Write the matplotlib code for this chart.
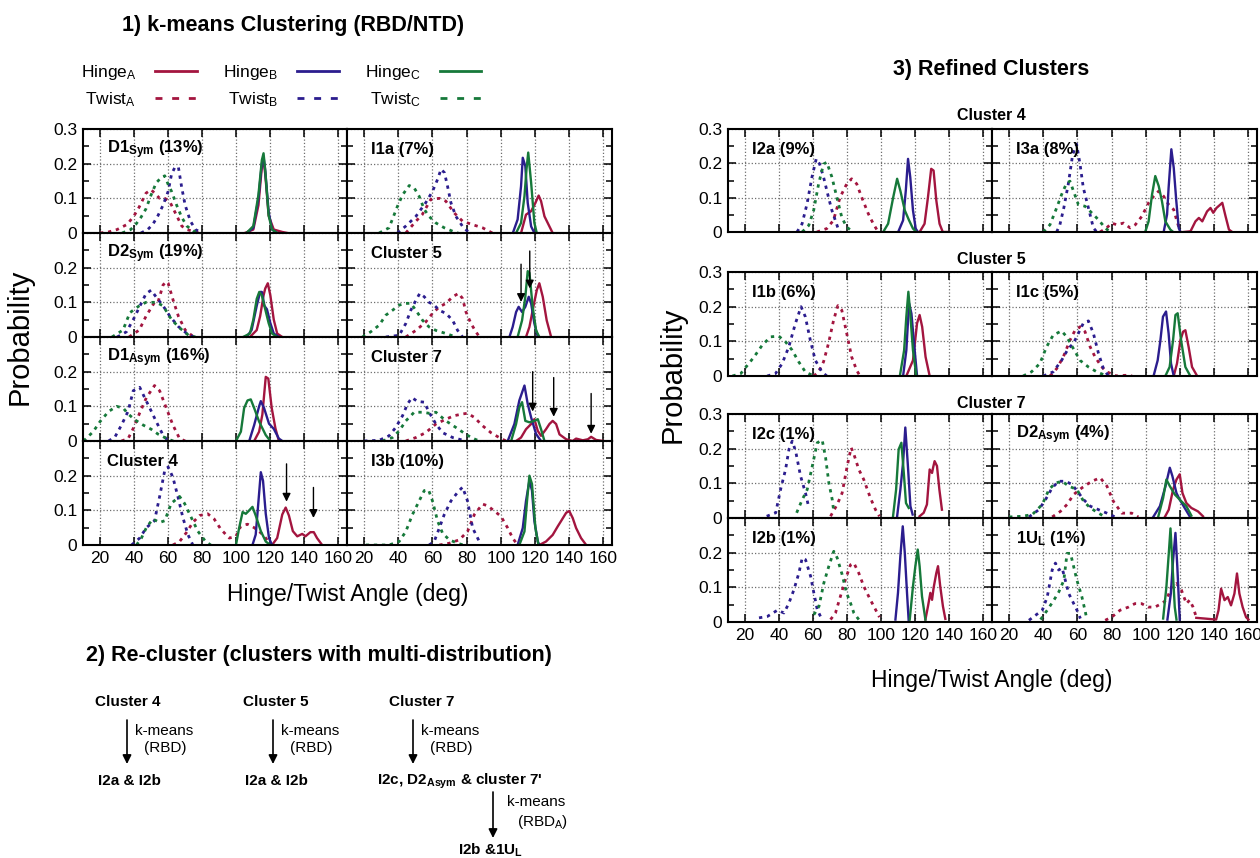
import matplotlib
matplotlib.use('Agg')
import matplotlib.pyplot as plt
from matplotlib.lines import Line2D

plt.rcParams['font.family'] = ['Liberation Sans', 'DejaVu Sans']
plt.rcParams['mathtext.default'] = 'regular'

# ---------------- data (angle deg, probability) ----------------
RED, BLUE, GREEN = '#a3153f', '#2b1d8e', '#16793a'
XTICKS = [20, 40, 60, 80, 100, 120, 140, 160]
YTICKS = [0, 0.1, 0.2, 0.3]
YTICKLABELS = ['0', '0.1', '0.2', '0.3']

d1sym = {
    'hA': [(105,0),(110,0.01),(113,0.08),(115,0.19),(116,0.21),(117,0.17),(119,0.05),(122,0.01),(127,0.003),(130,0)],
    'hB': [(106,0),(110,0.015),(113,0.1),(115,0.2),(116,0.22),(117,0.18),(119,0.06),(121,0.01),(124,0)],
    'hC': [(106,0),(110,0.02),(113,0.11),(115,0.21),(116,0.23),(117,0.18),(119,0.05),(121,0.01),(124,0)],
    'tA': [(20,0),(25,0.003),(30,0.01),(36,0.025),(40,0.05),(43,0.075),(47,0.115),(50,0.125),(55,0.1),(58,0.1),(61,0.09),(63,0.07),(65,0.05),(68,0.02),(71,0.01),(78,0)],
    'tB': [(44,0),(48,0.01),(51,0.025),(54,0.05),(57,0.08),(60,0.12),(62,0.17),(64,0.19),(66,0.19),(68,0.13),(70,0.08),(73,0.035),(76,0.01),(80,0)],
    'tC': [(33,0),(38,0.01),(41,0.025),(44,0.045),(47,0.07),(50,0.11),(53,0.145),(56,0.16),(58,0.165),(60,0.14),(62,0.12),(65,0.08),(68,0.045),(71,0.02),(75,0.005),(78,0)],
}
d2sym = {
    'hA': [(108,0),(112,0.02),(114,0.06),(116,0.12),(117,0.14),(118.5,0.155),(120,0.12),(122,0.05),(124,0.01),(127,0)],
    'hB': [(106,0),(109,0.02),(112,0.09),(114,0.13),(115,0.13),(116.5,0.09),(118,0.08),(120,0.04),(122,0.01),(125,0)],
    'hC': [(104,0),(108,0.01),(110,0.05),(112,0.11),(113.5,0.13),(115,0.12),(117,0.08),(119,0.04),(121,0.01),(124,0)],
    'tA': [(37,0),(43,0.02),(47,0.06),(52,0.1),(54,0.1),(57,0.15),(59,0.16),(60,0.155),(63,0.105),(66,0.06),(70,0.02),(75,0)],
    'tB': [(30,0),(32,0.005),(35.5,0.015),(39.5,0.05),(43.5,0.09),(47,0.125),(50,0.135),(53,0.115),(57,0.09),(61,0.06),(66,0.03),(71,0.01),(75,0)],
    'tC': [(27,0),(33.5,0.02),(37.5,0.07),(43,0.09),(47,0.1),(53,0.1),(57,0.09),(62,0.05),(67,0.025),(72,0.005),(76,0)],
}
d1asym = {
    'hA': [(110.5,0),(113.4,0.027),(115.3,0.076),(117.3,0.185),(118.8,0.18),(120.8,0.095),(123,0.036),(125,0)],
    'hB': [(107.6,0),(110.5,0.046),(113.4,0.1),(114.4,0.115),(116.3,0.095),(119.2,0.05),(122,0.035),(125,0.007),(127,0)],
    'hC': [(99.8,0),(102.7,0.027),(104.6,0.095),(106.6,0.117),(108.5,0.12),(110.5,0.095),(113.4,0.056),(117.3,0.017),(120,0)],
    'tA': [(32.6,0),(36.5,0.007),(39.5,0.036),(43.3,0.081),(47.2,0.125),(52,0.16),(55,0.145),(58.9,0.095),(62.8,0.046),(66.7,0.007),(70,0)],
    'tB': [(25,0),(28.8,0.012),(32.6,0.046),(36.5,0.086),(39.5,0.145),(43.3,0.155),(46,0.127),(49.2,0.095),(53,0.056),(57,0.017),(60,0)],
    'tC': [(10.3,0),(16,0.027),(20,0.056),(25,0.085),(29.7,0.1),(33.6,0.095),(36.5,0.078),(40.5,0.061),(45.3,0.046),(50,0.034),(54,0.02),(60,0.005),(63,0)],
}
cluster4 = {
    'hA': [(121,0),(124,0.02),(127,0.088),(129,0.108),(130.9,0.085),(133.2,0.04),(135.8,0.025),(138.7,0.032),(140.6,0.025),(143.5,0.037),(145.5,0.037),(147.4,0.02),(150.4,0)],
    'hB': [(109.5,0),(111.4,0.03),(113,0.125),(114.4,0.21),(115.7,0.185),(117.3,0.09),(119.2,0.02),(121,0)],
    'hC': [(99.8,0),(101.7,0.05),(103.7,0.095),(105.6,0.09),(107.6,0.1),(109.5,0.11),(111.4,0.085),(114.4,0.04),(117.3,0.01),(120,0)],
    'tA': [(62.8,0),(66.7,0.01),(70.6,0.035),(74.5,0.065),(78.4,0.085),(83.2,0.09),(87,0.075),(91,0.045),(95.9,0.02),(99.8,0.025),(102.7,0.055),(106.6,0.06),(110.5,0.05),(114.4,0.035),(117.3,0.02),(120,0)],
    'tB': [(38.5,0),(43.3,0.02),(47.2,0.05),(52,0.07),(55,0.14),(58,0.215),(60,0.225),(62.8,0.195),(65.7,0.14),(68.6,0.08),(71.6,0.03),(74.5,0)],
    'tC': [(41.4,0),(44.3,0.02),(47.2,0.05),(51,0.075),(55,0.065),(58,0.07),(61.8,0.12),(66.7,0.14),(69.6,0.12),(73.5,0.08),(77.4,0.04),(82,0.01),(85,0)],
}
i1a = {
    'hA': [(111.8,0),(114.7,0.053),(117.7,0.063),(120.2,0.087),(122.1,0.108),(123.5,0.092),(125.5,0.048),(127.4,0.029),(130.3,0)],
    'hB': [(107,0),(109.8,0.039),(111.8,0.135),(112.8,0.217),(114.3,0.193),(115.7,0.087),(117.7,0.019),(119.6,0)],
    'hC': [(108.9,0),(111.8,0.029),(113.8,0.106),(115,0.184),(116,0.232),(117.7,0.145),(119.6,0.029),(121,0)],
    'tA': [(44.4,0),(50.3,0.034),(54,0.053),(59,0.097),(64,0.1),(67.8,0.092),(72.7,0.058),(77.6,0.034),(83.5,0.024),(89.3,0.015),(95,0)],
    'tB': [(39.5,0),(44.4,0.02),(50.3,0.048),(56,0.087),(60,0.12),(63,0.155),(65,0.184),(67,0.174),(68.8,0.135),(70.8,0.087),(73.7,0.048),(77.6,0.019),(81.5,0)],
    'tC': [(28.8,0),(34.6,0.015),(39.5,0.077),(42.5,0.11),(46.4,0.137),(49.3,0.13),(52.2,0.106),(55.2,0.068),(58,0.048),(62,0.029),(66.9,0.015),(71.8,0.005),(75,0)],
}
cluster5 = {
    'hA': [(114.7,0),(116.7,0.029),(119,0.087),(121,0.135),(122.5,0.155),(124.5,0.116),(126.8,0.048),(129.4,0)],
    'hB': [(105,0),(106.9,0.029),(108.9,0.072),(110.4,0.087),(112.4,0.072),(114.3,0.087),(116.3,0.116),(117.7,0.097),(119.6,0.039),(121.6,0)],
    'hC': [(109.8,0),(112.4,0.048),(114.3,0.116),(115.7,0.19),(116.7,0.185),(118.6,0.087),(120.6,0.019),(122.5,0)],
    'tA': [(44.4,0),(50.3,0.019),(56,0.043),(60,0.068),(64,0.087),(67.9,0.097),(71.8,0.116),(75.3,0.126),(77.6,0.111),(79.6,0.072),(82.5,0.039),(85.4,0.015),(87.5,0)],
    'tB': [(32.7,0),(40.5,0.005),(44.4,0.039),(47.3,0.077),(50.3,0.106),(52.6,0.126),(55.2,0.116),(58,0.1),(61,0.092),(64,0.077),(67.9,0.068),(71.8,0.048),(74.7,0.019),(77.6,0)],
    'tC': [(19,0),(23.9,0.015),(28.8,0.034),(32.7,0.063),(36.6,0.077),(40.5,0.092),(44.4,0.097),(47.3,0.097),(50.3,0.077),(54.2,0.048),(58,0.029),(62,0.019),(67.9,0.01),(73.7,0)],
}
cluster7 = {
    'hA': [(108.9,0),(111.8,0.01),(114.7,0.034),(117.7,0.049),(119.6,0.063),(121.6,0.029),(123.5,0.015),(126.4,0.034),(128.4,0.049),(130.3,0.058),(132.3,0.049),(134.3,0.019),(138.2,0.005),(142,0),(144,0.007),(147.9,0.002),(150.9,0.005),(152.8,0.012),(155.7,0.003),(160,0)],
    'hB': [(104,0),(107.9,0.049),(110.8,0.117),(113.8,0.16),(115.7,0.107),(117.7,0.068),(120.6,0.02),(123.5,0)],
    'hC': [(106,0),(108.9,0.049),(110.8,0.097),(112.4,0.112),(114.3,0.058),(116.7,0.054),(119.6,0.058),(121.6,0.063),(123.5,0.034),(125.5,0)],
    'tA': [(44.4,0),(50.3,0.01),(56,0.024),(62,0.049),(67.9,0.063),(72.7,0.073),(77.6,0.078),(80.5,0.08),(84.5,0.068),(89.3,0.044),(94.2,0.024),(99,0.01),(103,0)],
    'tB': [(20,0),(28.8,0.002),(34.6,0.015),(38.5,0.039),(42.5,0.073),(45.4,0.107),(48,0.125),(51.3,0.114),(55.2,0.112),(58,0.083),(62,0.049),(65.9,0.024),(71.8,0.01),(79.6,0)],
    'tC': [(30.7,0),(36.6,0.01),(40.5,0.029),(44.4,0.058),(49.3,0.083),(54.2,0.083),(58,0.08),(62,0.083),(67.9,0.058),(73.7,0.039),(79.6,0.019),(83.5,0.008),(87.4,0)],
}
i3b = {
    'hA': [(122.5,0),(126.4,0.01),(130.3,0.029),(133.3,0.054),(135.2,0.069),(138.2,0.093),(140,0.098),(142,0.078),(144,0.049),(146.9,0.02),(149.9,0)],
    'hB': [(109.8,0),(112.8,0.049),(114.7,0.127),(116.7,0.186),(118.2,0.157),(119.6,0.069),(121.6,0.01),(122.5,0)],
    'hC': [(110.8,0),(113.8,0.039),(115.3,0.127),(116.7,0.2),(118.2,0.176),(120.2,0.049),(122,0)],
    'tA': [(64,0),(69.8,0.005),(75.7,0.015),(80.5,0.039),(84.5,0.088),(89.3,0.118),(92.3,0.113),(96.2,0.098),(100,0.083),(104,0.049),(106.9,0.02),(109.8,0)],
    'tB': [(58,0),(61,0.01),(64,0.049),(66.9,0.088),(70.8,0.127),(74.7,0.152),(77.6,0.167),(80.5,0.127),(83.5,0.049),(86.4,0.02),(88.4,0)],
    'tC': [(21,0),(34.6,0),(40.5,0.01),(44.4,0.039),(48.3,0.088),(52.2,0.127),(55.2,0.157),(57.7,0.159),(60,0.127),(63,0.069),(65.9,0.034),(69.8,0.015),(74.7,0.005),(78,0)],
}
i2a = {
    'hA': [(122.5,0),(125.4,0.024),(127.4,0.101),(129.3,0.184),(130.7,0.179),(132.3,0.092),(134.2,0.024),(136.1,0),(140,0)],
    'hB': [(109.9,0),(112.8,0.034),(114.4,0.121),(115.7,0.213),(117,0.16),(118.6,0.063),(120.2,0.01),(121.5,0)],
    'hC': [(101.1,0),(104,0.024),(107,0.101),(109.3,0.155),(111.2,0.12),(113.8,0.063),(116.3,0.034),(118.6,0.01),(120.6,0)],
    'tA': [(62.2,0),(68,0.01),(71.9,0.034),(75.8,0.101),(79.7,0.14),(82.6,0.155),(85.6,0.14),(88.5,0.101),(92.4,0.053),(95.3,0.024),(98.2,0)],
    'tB': [(50.5,0),(53.5,0.024),(56.4,0.082),(59.3,0.16),(61.8,0.213),(63.8,0.198),(66.1,0.16),(69,0.101),(71,0.063),(73,0.034),(75,0.005),(76,0)],
    'tC': [(53.5,0),(57.4,0.019),(60.3,0.063),(63.2,0.14),(66.1,0.198),(68,0.203),(71,0.16),(73.9,0.101),(76.8,0.043),(79.7,0.014),(83.6,0)],
}
i3a = {
    'hA': [(122.2,0),(126.1,0.002),(129,0.031),(131,0.041),(133,0.031),(135.8,0.06),(137.8,0.07),(139.4,0.056),(141.3,0.07),(144.7,0.085),(146.6,0.046),(148.6,0.007),(150.5,0)],
    'hB': [(110.4,0),(112.4,0.051),(113.3,0.129),(114.9,0.241),(116.3,0.187),(117.8,0.09),(119.2,0.012),(120.2,0)],
    'hC': [(99.6,0),(101.6,0.031),(103.6,0.109),(105.5,0.163),(107.5,0.134),(109.4,0.09),(111.4,0.031),(114.3,0.007),(116,0)],
    'tA': [(73.2,0),(77.1,0.012),(80,0.026),(83,0.021),(86.9,0.026),(90.8,0.012),(93.8,0.021),(97.7,0.046),(101.6,0.085),(104.5,0.104),(107.5,0.119),(110.4,0.104),(113.3,0.08),(116.3,0.065),(118.2,0.031),(120.2,0)],
    'tB': [(47.8,0),(49.7,0.021),(52,0.07),(54.6,0.139),(57.2,0.226),(59.5,0.256),(61.5,0.197),(63.4,0.129),(66.4,0.07),(69.3,0.012),(71.3,0)],
    'tC': [(40,0),(43.9,0.021),(47.8,0.07),(50.7,0.109),(53.7,0.143),(55.6,0.148),(57.6,0.12),(60.5,0.08),(64.4,0.075),(68.3,0.056),(72.2,0.036),(76.2,0.012),(79,0)],
}
i1b = {
    'hA': [(114.7,0),(118.6,0.045),(121,0.152),(122.5,0.176),(124,0.142),(126,0.055),(128.4,0)],
    'hB': [(112.8,0),(114.7,0.074),(116.3,0.21),(117.7,0.18),(119.6,0.074),(121,0)],
    'hC': [(110.9,0),(113.4,0.074),(114.7,0.171),(115.9,0.243),(117,0.18),(118.6,0.074),(120.6,0)],
    'tA': [(60.3,0),(63.2,0.012),(66.1,0.041),(69,0.094),(72,0.161),(74.5,0.203),(76.8,0.19),(79.7,0.123),(82.6,0.055),(85.6,0.016),(87.5,0)],
    'tB': [(33,0),(37.9,0.007),(41.8,0.036),(45.7,0.084),(49.6,0.152),(52.9,0.2),(55.4,0.171),(58.3,0.104),(61.2,0.046),(65.1,0.012),(68,0)],
    'tC': [(12.6,0),(17.5,0.007),(21.4,0.031),(25.3,0.055),(30.1,0.089),(35,0.113),(39.8,0.115),(43.7,0.099),(47.6,0.075),(51.5,0.041),(55.4,0.012),(60.3,0)],
}
i1c = {
    'hA': [(116.3,0),(118.2,0.036),(120.2,0.103),(121.8,0.128),(123.1,0.132),(125,0.084),(127,0.026),(130,0)],
    'hB': [(104.5,0),(106.9,0.045),(108.5,0.103),(110,0.171),(111.8,0.186),(113.3,0.123),(114.7,0.036),(116.3,0)],
    'hC': [(111.4,0),(113.9,0.026),(115.9,0.103),(117.3,0.176),(118.6,0.181),(120.6,0.103),(123.1,0.026),(126,0)],
    'tA': [(43.9,0),(47.8,0.021),(51.7,0.055),(55.6,0.103),(58.6,0.132),(61.5,0.142),(64.4,0.128),(67.4,0.084),(70.3,0.055),(74.2,0.026),(77.1,0.012),(83,0),(88,0.002),(92,0)],
    'tB': [(40,0),(45.8,0.012),(50.7,0.045),(54.6,0.079),(57.6,0.094),(60.5,0.123),(63.4,0.152),(66.4,0.159),(69.3,0.123),(72.3,0.065),(75.2,0.021),(78.1,0)],
    'tC': [(28.2,0),(33.1,0.012),(38,0.036),(41.9,0.084),(45.8,0.118),(50.7,0.13),(53.7,0.113),(57.6,0.079),(61.5,0.045),(66.4,0.026),(71.3,0.012),(77.1,0)],
}
i2c = {
    'hA': [(122.5,0.005),(124.9,0.015),(126.8,0.039),(128.4,0.14),(129.8,0.13),(130.4,0.145),(131.3,0.164),(132.7,0.15),(134.1,0.082),(135.6,0.024)],
    'hB': [(109.3,0.005),(111.2,0.082),(112.8,0.16),(114.1,0.261),(115.5,0.16),(117.1,0.034),(118.4,0.01)],
    'hC': [(106.9,0.005),(108.7,0.082),(110.2,0.198),(111.8,0.217),(113.2,0.131),(114.5,0.043),(116.1,0.029)],
    'tA': [(70.2,0.005),(74.1,0.039),(77,0.072),(80,0.15),(82.3,0.203),(83.9,0.184),(86.8,0.14),(89.7,0.111),(93.6,0.058),(96.6,0.024),(98.9,0.005)],
    'tB': [(32.7,0.005),(38,0.015),(40.9,0.083),(43.8,0.14),(45.8,0.198),(47.7,0.222),(49.7,0.193),(52.6,0.121),(55.5,0.072),(57.5,0.029)],
    'tC': [(50.3,0.015),(53.6,0.053),(56.5,0.082),(59.5,0.15),(62.4,0.217),(65.3,0.225),(67.3,0.174),(69.2,0.102),(71.2,0.053),(72.1,0.019)],
}
d2asym = {
    'hA': [(111.1,0.003),(113.4,0.024),(115.9,0.082),(117.9,0.111),(119.8,0.126),(121.4,0.072),(123.7,0.043),(126.6,0.029),(130.5,0.019),(133.4,0.005)],
    'hB': [(104.3,0.003),(108.2,0.034),(111.5,0.092),(114,0.145),(115.5,0.121),(117.9,0.072),(119.8,0.053),(122.7,0.029),(125.6,0.005)],
    'hC': [(107.2,0.003),(110.1,0.058),(112,0.111),(114,0.092),(116.9,0.068),(120.8,0.048),(123.7,0.034),(126.6,0.007)],
    'tA': [(45.2,0.003),(50,0.019),(53.9,0.039),(57.8,0.068),(62.6,0.087),(68.4,0.106),(73.3,0.116),(77.2,0.092),(81,0.048),(85.9,0.014),(91.7,0.014),(95.6,0.003)],
    'tB': [(31.6,0.003),(37.4,0.024),(41.3,0.053),(45.2,0.087),(49,0.106),(52.9,0.106),(56.8,0.097),(60.7,0.072),(63.6,0.053),(67.5,0.034),(72.3,0.024),(77.2,0.014),(82,0.003)],
    'tC': [(20,0.003),(27.8,0.005),(33.6,0.01),(39.4,0.039),(43.3,0.082),(47.1,0.101),(51,0.106),(54.9,0.092),(59.7,0.082),(63.6,0.048),(67.5,0.029),(72.3,0.014),(76.2,0.003)],
}
i2b = {
    'hA': [(125.9,0.007),(127.4,0.045),(128.8,0.084),(129.8,0.064),(130.7,0.098),(132.3,0.141),(133.3,0.161),(134.6,0.103),(136.2,0.045),(137.6,0.009)],
    'hB': [(108.3,0.007),(109.8,0.084),(111.2,0.19),(112.6,0.276),(113.8,0.199),(115.1,0.084),(116.1,0.002)],
    'hC': [(116.7,0.007),(118.6,0.103),(120,0.161),(121.4,0.209),(122.5,0.161),(123.9,0.074),(125.9,0.007)],
    'tA': [(70.2,0.007),(73.1,0.026),(76,0.074),(78.9,0.122),(81.9,0.165),(83.9,0.17),(86.8,0.141),(89.7,0.103),(93.6,0.064),(96.6,0.036),(98.9,0.014)],
    'tB': [(28.2,0.012),(33.1,0.016),(39,0.034),(42.9,0.026),(45.8,0.055),(48.7,0.093),(51.6,0.141),(53.6,0.185),(55.5,0.18),(58.5,0.132),(60.4,0.084),(62.4,0.036),(64.3,0.016)],
    'tC': [(60.4,0.021),(63.4,0.045),(66.3,0.113),(69.2,0.161),(72.1,0.204),(74.1,0.185),(77,0.137),(79.6,0.084),(81.9,0.055),(83.9,0.026),(86.8,0.007)],
}
u1l = {
    'hA': [(129.5,0.012),(134.3,0.01),(141.1,0.007),(142.5,0.034),(144,0.096),(146,0.063),(147.9,0.072),(149.8,0.048),(151.8,0.082),(153.3,0.14),(154.7,0.082),(156.6,0.043),(158.6,0.014),(160,0.007)],
    'hB': [(112.6,0.007),(114.6,0.082),(115.9,0.178),(117.3,0.257),(118.4,0.159),(119.8,0.007)],
    'hC': [(110.1,0.01),(112,0.101),(113.4,0.198),(114.4,0.27),(115.5,0.17),(116.9,0.043),(117.9,0.007)],
    'tA': [(76.2,0.005),(80,0.014),(84.9,0.034),(89.8,0.043),(93.6,0.053),(97.5,0.053),(101.4,0.043),(105.3,0.043),(109.1,0.053),(112,0.063),(115,0.101),(117.9,0.111),(120.8,0.092),(123.7,0.053),(125.6,0.063),(127.6,0.043),(129.5,0.014)],
    'tB': [(31.6,0.005),(39.4,0.034),(42.3,0.072),(45.2,0.15),(47.1,0.17),(49,0.15),(51,0.156),(52.9,0.12),(54.9,0.082),(57.8,0.053),(59.7,0.034),(61.7,0.01)],
    'tC': [(38.4,0.007),(42.3,0.034),(46.2,0.063),(49.1,0.087),(52,0.12),(53.9,0.198),(55.9,0.198),(57.8,0.159),(59.7,0.12),(62.6,0.072),(64.6,0.029),(65.5,0.007)],
}

# arrows: (x, y_start, y_tip)
arrows_cluster4 = [(129.5, 0.234, 0.125), (145.3, 0.166, 0.078)]
arrows_cluster5 = [(111.8, 0.21, 0.101), (116.9, 0.248, 0.14)]
arrows_cluster7 = [(118.6, 0.2, 0.085), (130.9, 0.183, 0.07), (152.8, 0.137, 0.021)]

# ---------------- figure ----------------
W, H = 1260, 858
fig = plt.figure(figsize=(W / 100, H / 100), dpi=100)

DOT = (0, (1.2, 1.7))
STYLE = {
    'hA': dict(color=RED, ls='-'), 'hB': dict(color=BLUE, ls='-'), 'hC': dict(color=GREEN, ls='-'),
    'tA': dict(color=RED, ls=DOT), 'tB': dict(color=BLUE, ls=DOT), 'tC': dict(color=GREEN, ls=DOT),
}
ORDER = ['tA', 'tB', 'tC', 'hA', 'hB', 'hC']


def px_axes(x0, y0, x1, y1):
    return fig.add_axes([x0 / W, 1 - y1 / H, (x1 - x0) / W, (y1 - y0) / H])


def panel(box, data, label, xlabels=False, ylabels=False, top_label=True, arrows=None):
    ax = px_axes(*box)
    for key in ORDER:
        xs = [p[0] for p in data[key]]
        ys = [p[1] for p in data[key]]
        lw = 1.7 if key[0] == 'h' else 2.0
        ax.plot(xs, ys, lw=lw, **STYLE[key])
    ax.set_xlim(10, 165)
    ax.set_ylim(0, 0.3)
    ax.set_xticks(XTICKS)
    ax.set_yticks(YTICKS)
    ax.set_yticks([0.05, 0.15, 0.25], minor=True)
    labs = list(YTICKLABELS)
    if not top_label:
        labs[-1] = ''
    ax.set_yticklabels(labs)
    ax.tick_params(which='both', direction='in', top=True, right=True, labelsize=12.5,
                   width=1.1, labelbottom=xlabels, labelleft=ylabels, pad=4)
    ax.tick_params(which='major', length=6)
    ax.tick_params(which='minor', length=4)
    ax.grid(True, which='major', linestyle=':', color='#6e6e6e', linewidth=0.9)
    ax.set_axisbelow(True)
    for s in ax.spines.values():
        s.set_linewidth(1.5)
    ax.text(0.09, 0.80, label, transform=ax.transAxes, fontsize=12, fontweight='bold',
            va='center', ha='left')
    if arrows:
        for x, y0, y1 in arrows:
            ax.annotate('', xy=(x, y1), xytext=(x, y0),
                        arrowprops=dict(arrowstyle='-|>', color='black', lw=1.0,
                                        mutation_scale=12, shrinkA=0, shrinkB=0))
    return ax


# left block
LX = [(83, 347), (347, 612)]
LY = [(129, 233), (233, 337), (337, 441), (441, 545)]
left_panels = [
    (d1sym, 'D1$_{Sym}$ (13%)', None), (i1a, 'I1a (7%)', None),
    (d2sym, 'D2$_{Sym}$ (19%)', None), (cluster5, 'Cluster 5', arrows_cluster5),
    (d1asym, 'D1$_{Asym}$ (16%)', None), (cluster7, 'Cluster 7', arrows_cluster7),
    (cluster4, 'Cluster 4', arrows_cluster4), (i3b, 'I3b (10%)', None),
]
for i, (dat, lab, arr) in enumerate(left_panels):
    r, c = divmod(i, 2)
    box = (LX[c][0], LY[r][0], LX[c][1], LY[r][1])
    panel(box, dat, lab, xlabels=(r == 3), ylabels=(c == 0), top_label=(r == 0), arrows=arr)

# right block
RX = [(728, 992), (992, 1257)]
RY = [(129, 232), (272, 376), (414, 518), (518, 622)]
right_panels = [
    (i2a, 'I2a (9%)'), (i3a, 'I3a (8%)'),
    (i1b, 'I1b (6%)'), (i1c, 'I1c (5%)'),
    (i2c, 'I2c (1%)'), (d2asym, 'D2$_{Asym}$ (4%)'),
    (i2b, 'I2b (1%)'), (u1l, '1U$_{L}$ (1%)'),
]
for i, (dat, lab) in enumerate(right_panels):
    r, c = divmod(i, 2)
    box = (RX[c][0], RY[r][0], RX[c][1], RY[r][1])
    panel(box, dat, lab, xlabels=(r == 3), ylabels=(c == 0), top_label=(r != 3))

# overlay in pixel coordinates for titles / diagram
ov = fig.add_axes([0, 0, 1, 1], zorder=-5)
ov.set_xlim(0, W)
ov.set_ylim(H, 0)
ov.axis('off')

ov.text(293, 25, '1) k-means Clustering (RBD/NTD)', fontsize=15.5, fontweight='bold', ha='center', va='center')
ov.text(991, 70, '3) Refined Clusters', fontsize=15.5, fontweight='bold', ha='center', va='center')
ov.text(319, 655, '2) Re-cluster (clusters with multi-distribution)', fontsize=15.5, fontweight='bold',
        ha='center', va='center')
for y, t in [(115, 'Cluster 4'), (260, 'Cluster 5'), (404, 'Cluster 7')]:
    ov.text(991, y, t, fontsize=11.5, fontweight='bold', ha='center', va='center')

ov.text(20, 337, 'Probability', fontsize=21, rotation=90, ha='center', va='center')
ov.text(348, 595, 'Hinge/Twist Angle (deg)', fontsize=16.5, ha='center', va='center')
ov.text(673, 375, 'Probability', fontsize=21, rotation=90, ha='center', va='center')
ov.text(992, 680, 'Hinge/Twist Angle (deg)', fontsize=16.5, ha='center', va='center')

# legend
LEG_DASH = (0, (2.5, 3.5))
handles = [
    Line2D([], [], lw=2, color=RED), Line2D([], [], lw=2, color=RED, ls=LEG_DASH),
    Line2D([], [], lw=2, color=BLUE), Line2D([], [], lw=2, color=BLUE, ls=LEG_DASH),
    Line2D([], [], lw=2, color=GREEN), Line2D([], [], lw=2, color=GREEN, ls=LEG_DASH),
]
labels = ['Hinge$_A$', 'Twist$_A$', 'Hinge$_B$', 'Twist$_B$', 'Hinge$_C$', 'Twist$_C$']
fig.legend(handles, labels, ncol=3, loc='center', bbox_to_anchor=(281 / W, 1 - 86 / H),
           frameon=False, markerfirst=False, fontsize=12.5, handlelength=2.4,
           handletextpad=1.1, columnspacing=1.5, labelspacing=0.5)

# re-cluster diagram
ARROW = dict(arrowstyle='-|>', color='black', lw=1.2, mutation_scale=13, shrinkA=0, shrinkB=0)
for cx, ax_x, name in [(95, 127, 'Cluster 4'), (243, 273, 'Cluster 5'), (389, 413, 'Cluster 7')]:
    ov.text(cx, 702, name, fontsize=11, fontweight='bold', ha='left', va='center')
    ov.annotate('', xy=(ax_x, 764), xytext=(ax_x, 720), arrowprops=ARROW)
    ov.text(ax_x + 8, 731, 'k-means', fontsize=11, ha='left', va='center')
    ov.text(ax_x + 17, 748, '(RBD)', fontsize=11, ha='left', va='center')
ov.text(98, 781, 'I2a & I2b', fontsize=11, fontweight='bold', ha='left', va='center')
ov.text(245, 781, 'I2a & I2b', fontsize=11, fontweight='bold', ha='left', va='center')
ov.text(377, 781, "I2c, D2$_{Asym}$ & cluster 7'", fontsize=11, fontweight='bold', ha='left', va='center')
ov.annotate('', xy=(493, 838), xytext=(493, 792), arrowprops=ARROW)
ov.text(507, 802, 'k-means', fontsize=11, ha='left', va='center')
ov.text(517, 822, '(RBD$_A$)', fontsize=11, ha='left', va='center')
ov.text(458, 850, 'I2b &1U$_L$', fontsize=11, fontweight='bold', ha='left', va='center')

fig.savefig('out.png', dpi=100)
